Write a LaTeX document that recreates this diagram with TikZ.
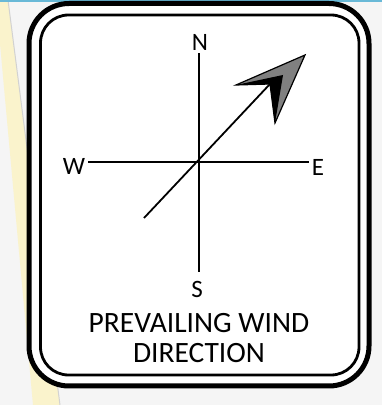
\documentclass[tikz,border=0pt]{standalone}
\usepackage{fontspec}
\setmainfont{Carlito}
\usetikzlibrary{calc}

\definecolor{paper}{RGB}{245,245,245}
\definecolor{beige}{RGB}{250,243,204}
\definecolor{topblue}{RGB}{105,185,215}
\definecolor{headgray}{RGB}{128,128,128}

\begin{document}
\begin{tikzpicture}[x=1pt, y=1pt,
    frameout/.style={line width=5pt, rounded corners=40pt},
    framein/.style={line width=2.8pt, rounded corners=28pt},
    axis/.style={line width=1.8pt},
    lbl/.style={inner sep=3pt, font=\fontsize{25}{30}\selectfont},
    caption/.style={align=center, inner sep=0pt, font=\fontsize{29.5}{30}\selectfont}]
    \useasboundingbox (0,0) rectangle (382,405);

    % background strip and paper
    \fill[paper] (0,0) rectangle (382,405);
    \fill[beige] (-4,405) -- (8,405) -- (60,0) -- (33,0) -- cycle;
    \draw[gray!35, line width=1pt] (8,405) -- (60,0);
    \fill[topblue] (0,403) rectangle (382,405);

    % sign frame
    \draw[frameout, fill=white] (29,19) rectangle (369,401.5);
    \draw[framein] (40.5,30) rectangle (359,390);

    % compass
    \coordinate (ctr) at (199,243);
    \node[lbl] (N) at (200,363) {N};
    \node[lbl] (S) at (197,116) {S};
    \node[lbl] (W) at (74,239) {W};
    \node[lbl] (E) at (318,238) {E};
    \draw[axis, shorten >=6pt] (N.south -| ctr) -- (S.north -| ctr);
    \draw[axis] (W.east |- ctr) -- (E.west |- ctr);

    % wind arrow
    \coordinate (tail) at (144,187);
    \coordinate (notch) at (270,321);
    \coordinate (tip) at (305,350);
    \coordinate (barbL) at (236,320);
    \coordinate (barbR) at (275,282);
    \draw[axis] (tail) -- (notch);
    \draw[fill=headgray, line width=1.2pt, line join=miter] (tip) -- (barbL) -- (notch) -- (barbR) -- cycle;
    \fill (barbL) -- (283,330) -- (279,306) -- (barbR) -- (notch) -- cycle;

    % caption
    \node[caption] (cap) at (199,67) {PREVAILING WIND\\DIRECTION};
\end{tikzpicture}
\end{document}
